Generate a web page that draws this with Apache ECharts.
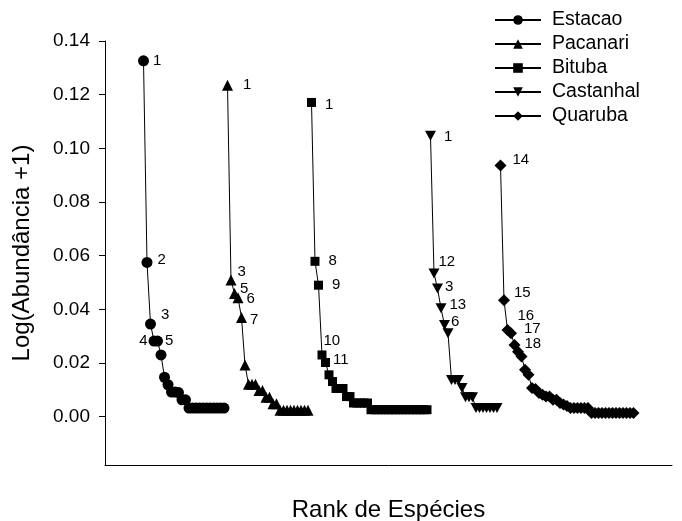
<!DOCTYPE html>
<html>
<head>
<meta charset="utf-8">
<script src="https://cdn.jsdelivr.net/npm/echarts@6/dist/echarts.min.js"></script>
<style>
  html, body { margin: 0; padding: 0; background: #fff; }
  #chart { width: 682px; height: 521px; }
</style>
</head>
<body>
<div id="chart"></div>
<script>
// Rank-abundance curves, one per site, drawn one after another along the rank axis
const seriesNames = ['Estacao', 'Pacanari', 'Bituba', 'Castanhal', 'Quaruba'];

const estacao = [0.1326, 0.0575, 0.0345, 0.0282, 0.0282, 0.0230, 0.0147, 0.0119, 0.0092, 0.0092,
  0.0090, 0.0063, 0.0063, 0.0032, 0.0032, 0.0032, 0.0032, 0.0032, 0.0032, 0.0032,
  0.0032, 0.0032, 0.0032, 0.0032];
const pacanari = [0.1235, 0.0509, 0.0459, 0.0443, 0.0370, 0.0193, 0.0121, 0.0121, 0.0121, 0.0098,
  0.0098, 0.0072, 0.0072, 0.0048, 0.0048, 0.0024, 0.0024, 0.0024, 0.0024, 0.0024,
  0.0024, 0.0024, 0.0024, 0.0024];
const bituba = [0.1171, 0.0579, 0.0490, 0.0230, 0.0202, 0.0156, 0.0131, 0.0105, 0.0105, 0.0105,
  0.0075, 0.0075, 0.0051, 0.0051, 0.0051, 0.0051, 0.0051, 0.0026, 0.0026, 0.0026,
  0.0026, 0.0026, 0.0026, 0.0026, 0.0026, 0.0026, 0.0026, 0.0026, 0.0026, 0.0026,
  0.0026, 0.0026, 0.0026, 0.0026];
const castanhal = [0.1047, 0.0534, 0.0478, 0.0404, 0.0342, 0.0311, 0.0137, 0.0137, 0.0137, 0.0107,
  0.0072, 0.0072, 0.0072, 0.0032, 0.0032, 0.0032, 0.0032, 0.0032, 0.0032, 0.0032];
const quaruba = [0.0936, 0.0434, 0.0323, 0.0311, 0.0267, 0.0242, 0.0224, 0.0175, 0.0156, 0.0107,
  0.0103, 0.0088, 0.0082, 0.0075, 0.0075, 0.0063, 0.0063, 0.0051, 0.0045, 0.0040,
  0.0032, 0.0032, 0.0032, 0.0032, 0.0032, 0.0032, 0.0014, 0.0014, 0.0014, 0.0014,
  0.0014, 0.0014, 0.0014, 0.0014, 0.0014, 0.0014, 0.0014, 0.0014, 0.0014];

// species numbers written beside the first points of each curve
const estacaoLabels = ['1', '2', '3', '4', '5'];
const pacanariLabels = ['1', '3', '5', '6', '7'];
const bitubaLabels = ['1', '8', '9', '10', '11'];
const castanhalLabels = ['1', '12', '3', '13', '6'];
const quarubaLabels = ['14', '15', '16', '17', '18'];

const yTicks = [0, 0.02, 0.04, 0.06, 0.08, 0.10, 0.12, 0.14];

const allValues = [estacao, pacanari, bituba, castanhal, quaruba];
const allLabels = [estacaoLabels, pacanariLabels, bitubaLabels, castanhalLabels, quarubaLabels];

// marker shapes and label placement
const FONT = 'Liberation Sans, Arial, sans-serif';
const symbols = ['circle', 'triangle', 'rect', 'path://M0,0L10,0L5,9Z', 'diamond'];
const symbolSizes = [11, 11, 9, [11, 10], 12];
const labelPlacement = [
  [['right', 0, 0], ['right', 1, -3], ['right', 1, -9], ['left', 3, 0], ['right', -2, 0]],
  [['right', 6, 0], ['right', -3, -8], ['right', -4, -5], ['right', -1, 1], ['right', -1, 2]],
  [['right', 5, 2], ['right', 5, 0], ['right', 5, 0], ['right', -7, -14], ['right', -1, -3]],
  [['right', 4, 1], ['right', -5, -12], ['right', -2, -2], ['right', -1, -3], ['right', -3, -3]],
  [['right', 2, -6], ['right', 0, -7], ['right', 0, -14], ['right', 3, -4], ['right', 0, -1]]
];

const series = [];
let rankOffset = 0;
allValues.forEach(function (vals, si) {
  const data = vals.map(function (v, i) {
    const item = { value: [rankOffset + i + 1, v] };
    const txt = allLabels[si][i];
    if (txt !== undefined) {
      const p = labelPlacement[si][i];
      item.label = {
        show: true,
        formatter: txt,
        position: p[0],
        offset: [p[1], p[2]],
        distance: 4,
        color: '#000',
        fontSize: 15,
        fontFamily: FONT
      };
    }
    return item;
  });
  rankOffset += vals.length;
  series.push({
    name: seriesNames[si],
    type: 'line',
    data: data,
    symbol: symbols[si],
    symbolSize: symbolSizes[si],
    showAllSymbol: true,
    lineStyle: { color: '#000', width: 1 },
    itemStyle: { color: '#000', borderWidth: 0 },
    label: { show: false },
    emphasis: { disabled: true },
    animation: false,
    z: 2
  });
});

const chart = echarts.init(document.getElementById('chart'), null, { renderer: 'canvas' });
chart.setOption({
  backgroundColor: '#fff',
  animation: false,
  textStyle: { fontFamily: FONT, color: '#000' },
  grid: { left: 105, right: 10, top: 41, bottom: 56, containLabel: false, outerBoundsMode: 'none' },
  legend: {
    orient: 'vertical',
    left: 489,
    top: 5,
    itemWidth: 46,
    itemHeight: 12,
    itemGap: 4,
    textStyle: { fontSize: 19.5, color: '#000', fontFamily: FONT, padding: [0, 0, 0, 6] },
    data: seriesNames
  },
  xAxis: {
    type: 'value',
    min: -10,
    max: 152,
    name: 'Rank de Espécies',
    nameLocation: 'middle',
    nameGap: 33,
    nameTextStyle: { fontSize: 24, color: '#000', fontFamily: FONT },
    axisLine: { show: true, onZero: false, lineStyle: { color: '#000', width: 1 } },
    axisTick: { show: false },
    axisLabel: { show: false },
    splitLine: { show: false }
  },
  yAxis: {
    type: 'value',
    min: -0.018,
    max: 0.14,
    name: 'Log(Abundância +1)',
    nameLocation: 'middle',
    nameGap: 71,
    nameTextStyle: { fontSize: 24, color: '#000', fontFamily: FONT },
    axisLine: { show: true, onZero: false, lineStyle: { color: '#000', width: 1 } },
    axisTick: { show: true, inside: false, length: 6, customValues: yTicks, lineStyle: { color: '#000' } },
    axisLabel: {
      show: true,
      customValues: yTicks,
      margin: 15,
      fontSize: 19,
      color: '#000',
      fontFamily: FONT,
      formatter: function (v) { return v.toFixed(2); }
    },
    splitLine: { show: false }
  },
  series: series
});
</script>
</body>
</html>
